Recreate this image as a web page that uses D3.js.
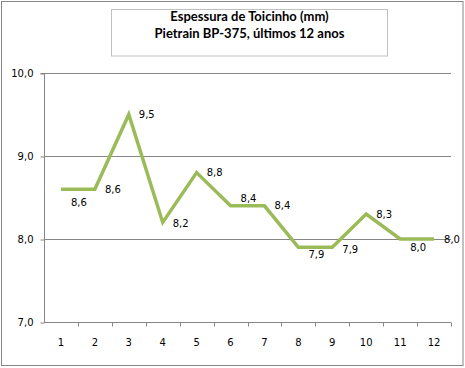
<!DOCTYPE html>
<html>
<head>
<meta charset="utf-8">
<script src="https://cdn.jsdelivr.net/npm/d3@7"></script>
<style>
  html, body { margin: 0; padding: 0; background: #fff; }
  svg { display: block; }
</style>
</head>
<body>
<svg id="chart" width="465" height="368"></svg>
<script>
const titleLines = ["Espessura de Toicinho (mm)", "Pietrain BP-375, últimos 12 anos"];
const categories = ["1","2","3","4","5","6","7","8","9","10","11","12"];
const values = [8.6, 8.6, 9.5, 8.2, 8.8, 8.4, 8.4, 7.9, 7.9, 8.3, 8.0, 8.0];
const yTicks = [7, 8, 9, 10];
const labelDy = [13, 0, 0, 1, 0, -7, 0, 7, 2, 0, 8, 0];

const fmt = v => d3.format(".1f")(v).replace(".", ",");

const svg = d3.select("#chart");
const W = 465, H = 368;
const plot = { left: 44, right: 451, top: 73, bottom: 322 };

// outer border
svg.append("rect").attr("x", 1.5).attr("y", 1.5).attr("width", 461.5).attr("height", 364)
  .attr("fill", "#fff").attr("stroke", "#868686").attr("stroke-width", 1);

// title box
svg.append("rect").attr("x", 111.5).attr("y", 9.5).attr("width", 276).attr("height", 46.5)
  .attr("fill", "#fff").attr("stroke", "#c0c0c0").attr("stroke-width", 1);
svg.selectAll("text.title").data(titleLines).enter().append("text")
  .attr("class", "title")
  .attr("x", 249.5).attr("y", (d, i) => 21 + i * 17)
  .attr("text-anchor", "middle")
  .attr("font-family", "Lato, 'Open Sans', sans-serif")
  .attr("font-weight", "bold").attr("font-size", 13)
  .attr("fill", "#000")
  .text(d => d);

const x = d3.scaleBand().domain(categories).range([plot.left, plot.right]).padding(0);
const y = d3.scaleLinear().domain([7, 10]).range([plot.bottom, plot.top]);

// gridlines
svg.append("g").selectAll("line").data(yTicks.filter(t => t > 7)).enter().append("line")
  .attr("x1", plot.left).attr("x2", plot.right)
  .attr("y1", d => Math.round(y(d)) + 0.5).attr("y2", d => Math.round(y(d)) + 0.5)
  .attr("stroke", "#868686").attr("stroke-width", 1);

// y axis
const yAxis = d3.axisLeft(y).tickValues(yTicks).tickFormat(fmt).tickSize(4).tickPadding(7);
const gy = svg.append("g").attr("transform", `translate(${plot.left + 0.5},0.5)`).call(yAxis);
gy.select(".domain").attr("stroke", "#868686").attr("d", `M-4,${plot.top}H0V${plot.bottom}`);
gy.selectAll(".tick line").attr("stroke", "#868686");
gy.selectAll(".tick text").attr("font-family", "'DejaVu Sans', sans-serif").attr("font-size", 10).attr("fill", "#000");

// x axis
const xAxis = d3.axisBottom(x).tickSize(0).tickPadding(16);
const gx = svg.append("g").attr("transform", `translate(0,${plot.bottom + 0.5})`).call(xAxis);
gx.select(".domain").attr("stroke", "#868686").attr("d", `M${plot.left},0H${plot.right}`);
gx.selectAll(".tick text").attr("font-family", "'DejaVu Sans', sans-serif").attr("font-size", 10).attr("fill", "#000");
// boundary tick marks
const bounds = categories.map(c => x(c)).concat([x(categories[categories.length - 1]) + x.bandwidth()]);
gx.selectAll("line.bt").data(bounds.slice(1)).enter().append("line").attr("class", "bt")
  .attr("x1", d => Math.round(d) + 0.5).attr("x2", d => Math.round(d) + 0.5)
  .attr("y1", 0).attr("y2", 4).attr("stroke", "#868686");

// line
const line = d3.line().x((d, i) => x(categories[i]) + x.bandwidth() / 2).y(d => y(d));
svg.append("path").datum(values).attr("d", line)
  .attr("fill", "none").attr("stroke", "#9BBB59").attr("stroke-width", 3.5)
  .attr("stroke-linejoin", "miter");

// data labels
svg.append("g").selectAll("text").data(values).enter().append("text")
  .attr("x", (d, i) => x(categories[i]) + x.bandwidth() / 2 + 18)
  .attr("y", (d, i) => y(d) + labelDy[i])
  .attr("dy", "0.35em")
  .attr("text-anchor", "middle")
  .attr("font-family", "'DejaVu Sans', sans-serif").attr("font-size", 10).attr("fill", "#000")
  .text(d => fmt(d));
</script>
</body>
</html>
